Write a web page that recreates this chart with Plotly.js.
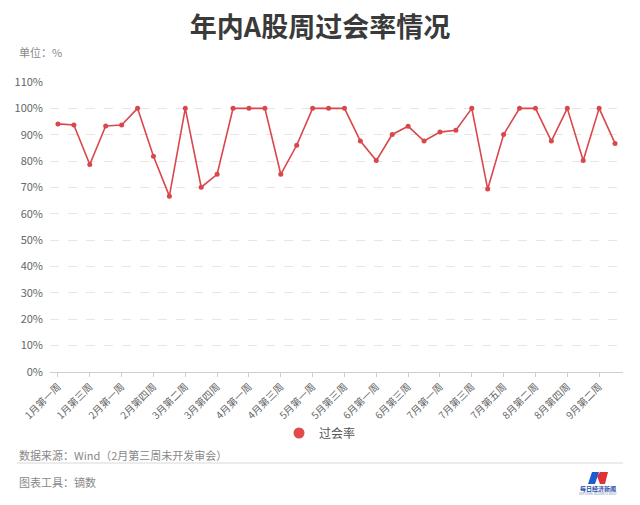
<!DOCTYPE html>
<html>
<head>
<meta charset="utf-8">
<script src="https://cdn.plot.ly/plotly-3.0.1.min.js"></script>
<style>html,body{margin:0;padding:0;background:#fff;}#chart{width:640px;height:505px;}</style>
</head>
<body>
<div id="chart"></div>
<script>
const categories = ['1月第一周','1月第二周','1月第三周','1月第四周','2月第一周','2月第二周','2月第四周',
 '3月第一周','3月第二周','3月第三周','3月第四周','3月第五周','4月第一周','4月第二周','4月第三周','4月第四周',
 '5月第一周','5月第二周','5月第三周','5月第四周','6月第一周','6月第二周','6月第三周','6月第四周',
 '7月第一周','7月第二周','7月第三周','7月第四周','7月第五周','8月第一周','8月第二周','8月第三周','8月第四周',
 '9月第一周','9月第二周','9月第三周'];
const passRate = [94.1,93.7,78.7,93.3,93.7,100,81.8,66.7,100,70.1,75.0,100,100,100,75.0,86.0,
 100,100,100,87.6,80.2,90.1,93.2,87.6,91.0,91.7,100,69.4,90.1,100,100,87.6,100,80.2,100,86.7];
const tickLabels = categories.filter((c,i)=>i%2===0);

const W=640,H=505,L=50,R=17,T=82,B=133;
const pw=W-L-R, ph=H-T-B;
const px=x=>(x-L)/pw, py=y=>(H-B-y)/ph;
const FONT='"Noto Sans CJK SC", "Noto Sans", sans-serif';
const red='#d9474b';

const data=[
 {x:categories,y:passRate,type:'scatter',mode:'lines+markers',name:'过会率',showlegend:false,
  line:{color:red,width:1.6},marker:{color:red,size:5}},
 {x:[null],y:[null],type:'scatter',mode:'markers',name:'过会率',
  marker:{color:'#e04a4a',size:11,symbol:'circle'}}
];
const layout={
 width:W,height:H,margin:{l:L,r:R,t:T,b:B,autoexpand:false},
 paper_bgcolor:'#fff',plot_bgcolor:'#fff',
 font:{family:FONT,color:'#666'},
 title:{text:'<b>年内A股周过会率情况</b>',font:{size:27,color:'#3a3a3a',family:FONT},
   xref:'container',x:0.5,xanchor:'center',yref:'container',y:1-28/H,yanchor:'middle'},
 xaxis:{type:'category',range:[-0.5,categories.length-0.5],tickvals:tickLabels,ticktext:tickLabels,
   tickangle:-45,tickfont:{size:10,color:'#666'},showline:true,linecolor:'#cfcfcf',linewidth:1,
   ticks:'outside',ticklen:4,tickcolor:'#cfcfcf',showgrid:false,zeroline:false,fixedrange:true,automargin:false},
 yaxis:{range:[0,110],dtick:10,ticksuffix:'%',tickfont:{size:11,color:'#666'},
   gridcolor:'#e6e6e6',griddash:'dash',gridwidth:1,zeroline:false,showline:false,ticks:'',
   ticklabelstandoff:6,fixedrange:true,automargin:false},
 legend:{orientation:'h',x:px(320),xanchor:'center',y:py(433),yanchor:'middle',
   font:{size:12,color:'#555'}},
 showlegend:true,
 annotations:[
  {text:'单位：%',xref:'paper',yref:'paper',x:px(17),y:py(52),xanchor:'left',yanchor:'middle',showarrow:false,font:{size:11,color:'#888'}},
  {text:'数据来源：Wind（2月第三周未开发审会）',xref:'paper',yref:'paper',x:px(17),y:py(455),xanchor:'left',yanchor:'middle',showarrow:false,font:{size:11,color:'#888'}},
  {text:'图表工具：镝数',xref:'paper',yref:'paper',x:px(17),y:py(482),xanchor:'left',yanchor:'middle',showarrow:false,font:{size:11,color:'#888'}},
  {text:'<b>每日经济新闻</b>',xref:'paper',yref:'paper',x:px(598),y:py(488),xanchor:'center',yanchor:'middle',showarrow:false,font:{size:6,color:'#1f4aa8'}},
  {text:'NATIONAL BUSINESS DAILY',xref:'paper',yref:'paper',x:px(598),y:py(494),xanchor:'center',yanchor:'middle',showarrow:false,font:{size:3,color:'#7a8fc0'}}
 ],
 shapes:[
  {type:'line',xref:'paper',yref:'paper',x0:px(17),x1:px(623),y0:py(463),y1:py(463),line:{color:'#d8d8d8',width:1}},
  {type:'path',xref:'paper',yref:'paper',
   path:`M ${px(588)} ${py(484)} L ${px(592)} ${py(472)} L ${px(599)} ${py(472)} L ${px(595)} ${py(484)} Z`,
   fillcolor:'#1f5bd1',line:{width:0}},
  {type:'path',xref:'paper',yref:'paper',
   path:`M ${px(597)} ${py(476)} L ${px(600)} ${py(472)} L ${px(608)} ${py(472)} L ${px(605)} ${py(484)} L ${px(600)} ${py(484)} Z`,
   fillcolor:'#e0303a',line:{width:0}}
 ]
};
Plotly.newPlot('chart',data,layout,{displayModeBar:false,staticPlot:true});
</script>
</body>
</html>
